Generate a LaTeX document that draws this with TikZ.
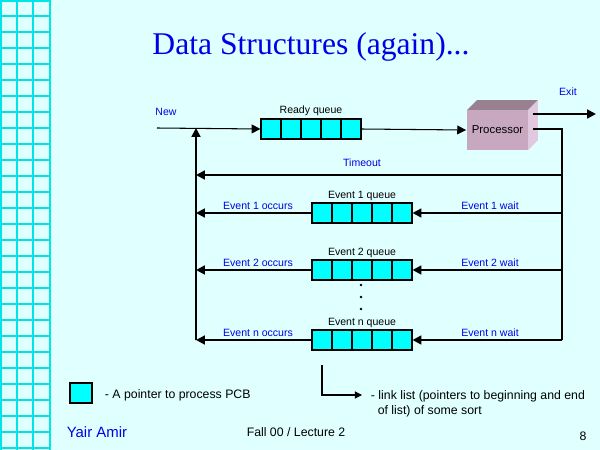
\documentclass[tikz,border=0pt]{standalone}
\usepackage{fontspec}
\setmainfont{Liberation Sans}
\newfontfamily\titlefont{Liberation Serif}
\usetikzlibrary{arrows.meta}
\definecolor{bgcyan}{RGB}{224,255,255}
\definecolor{gridcyan}{RGB}{0,230,230}
\definecolor{cell}{RGB}{0,255,255}
\definecolor{lblue}{RGB}{0,0,230}
\definecolor{procfront}{RGB}{200,168,192}
\definecolor{proctop}{RGB}{152,128,144}
\definecolor{procside}{RGB}{224,200,224}
\begin{document}
\begin{tikzpicture}[x=0.02cm, y=-0.02cm, line width=1.1pt, >={Triangle[length=5pt,width=5pt]}]
			\tikzstyle{cellbox} = [rectangle, draw=black, fill=cell, line width=0.6pt, minimum width=0.4cm, minimum height=0.4cm, inner sep=0pt]
			\tikzstyle{lbl}     = [font=\fontsize{6}{7}\selectfont, inner sep=0pt]
			\tikzstyle{bluelbl} = [lbl, text=lblue]

			\fill[bgcyan] (0,0) rectangle (600,450);
			\useasboundingbox (0,0) rectangle (600,450);
			\foreach \x in {1,17,33,50}
				\draw[gridcyan, line width=1pt] (\x,0) -- (\x,450);
			\foreach \y in {1,16,32,...,450}
				\draw[gridcyan, line width=1pt] (0,\y) -- (50,\y);

			\node[text=lblue, font=\titlefont\fontsize{18}{20}\selectfont] (title) at (311,47) {Data Structures (again)...};

			% queues
			\foreach \q/\x/\y in {rq/271/129, eva/322/213, evb/322/270, evn/322/340}
				\foreach \i in {0,...,4}
					\node[cellbox] (\q\i) at (\x+20*\i,\y) {};

			% processor
			\fill[proctop] (467,110) -- (477,100) -- (538,100) -- (528,110) -- cycle;
			\fill[procside] (528,110) -- (538,100) -- (538,140) -- (528,150) -- cycle;
			\node[rectangle, fill=procfront, minimum width=1.22cm, minimum height=0.8cm, inner sep=0pt, font=\fontsize{6.5}{7}\selectfont] (proc) at (497.5,130) {Processor};

			\coordinate (newin) at (157,128);
			\coordinate (exitout) at (596,114);
			\coordinate (jl) at (196,128);
			\coordinate (jr) at (562,129);
			\coordinate (bl) at (196,340);
			\coordinate (br) at (562,340);

			\draw[->, line width=0.6pt] (newin) -- (rq0.west);
			\draw[->, line width=0.6pt] (rq4.east) -- (proc.west);
			\draw[->] (proc.east |- exitout) ++(4,0) -- (exitout);
			\draw (proc.east) ++(4,-1) -| (br);
			\draw[->] (bl) -- (jl);
			\draw[->] (jr |- 0,175) -- (jl |- 0,175);
			\foreach \q in {eva,evb,evn} {
				\draw[->] (jr |- \q4) -- (\q4.east);
				\draw[->] (\q0.west) -- (jl |- \q0);
			}

			% labels
			\node[bluelbl] (newl) at (166,112) {New};
			\node[lbl] (rql) at (311,111) {Ready queue};
			\node[bluelbl] (exitl) at (568,92) {Exit};
			\node[bluelbl] (tol) at (362,163) {Timeout};
			\foreach \q/\n/\y in {eva/1/213, evb/2/270, evn/n/340} {
				\node[lbl] at (362,\y-17) {Event \n\ queue};
				\node[bluelbl] at (258,\y-7) {Event \n\ occurs};
				\node[bluelbl] at (490,\y-7) {Event \n\ wait};
			}
			\foreach \y in {285,297,309}
				\fill (361,\y) circle (1.4);

			% legend
			\node[cellbox, minimum width=0.44cm, minimum height=0.4cm] (legcell) at (81,393) {};
			\node[lbl, anchor=west, font=\fontsize{7}{8}\selectfont] (legtxt) at (104,395) {- A pointer to process PCB};
			\coordinate (lktop) at (322,365);
			\coordinate (lkend) at (362,395);
			\node[lbl, anchor=north west, align=left, font=\fontsize{7}{8.5}\selectfont] (lktxt) at (370,390) {- link list (pointers to beginning and end\\\ \ of list) of some sort};
			\draw[->, line width=0.6pt, >={Triangle[length=4pt,width=4pt]}] (lktop) |- (lkend);

			% footer
			\node[text=lblue, anchor=west, font=\fontsize{8.5}{10}\selectfont] (author) at (60,432) {Yair Amir};
			\node[font=\fontsize{7}{8}\selectfont] (course) at (296,432) {Fall 00 / Lecture 2};
			\node[font=\fontsize{7}{8}\selectfont] (page) at (583,436) {8};
		\end{tikzpicture}
\end{document}
